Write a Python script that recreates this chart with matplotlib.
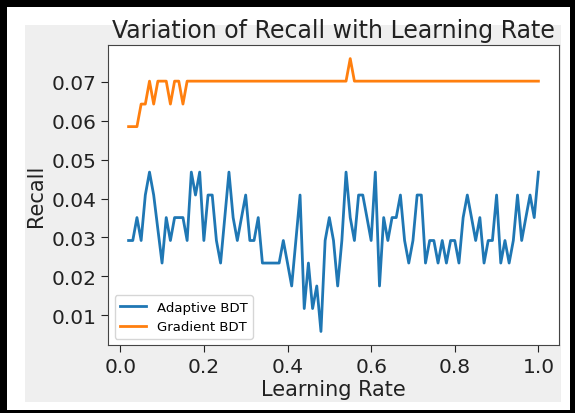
import numpy as np
import matplotlib
matplotlib.use('Agg')
import matplotlib.pyplot as plt
from matplotlib.patches import Rectangle

# learning rates 0.02 .. 1.00
learning_rates = [round(0.02 + 0.01 * i, 2) for i in range(99)]

adaptive_recall = [
    0.0292, 0.0292, 0.0351, 0.0292, 0.0409, 0.0468, 0.0409, 0.0321, 0.0234, 0.0351,
    0.0292, 0.0351, 0.0351, 0.0351, 0.0292, 0.0468, 0.0409, 0.0468, 0.0292, 0.0409,
    0.0409, 0.0292, 0.0234, 0.0351, 0.0468, 0.0351, 0.0292, 0.0351, 0.0409, 0.0292,
    0.0292, 0.0351, 0.0234, 0.0234, 0.0234, 0.0234, 0.0234, 0.0292, 0.0234, 0.0175,
    0.0292, 0.0409, 0.0117, 0.0234, 0.0117, 0.0175, 0.0058, 0.0292, 0.0351, 0.0292,
    0.0175, 0.0292, 0.0468, 0.0351, 0.0292, 0.0409, 0.0409, 0.0351, 0.0292, 0.0468,
    0.0175, 0.0351, 0.0292, 0.0351, 0.0351, 0.0409, 0.0292, 0.0234, 0.0292, 0.0409,
    0.0409, 0.0234, 0.0292, 0.0292, 0.0234, 0.0292, 0.0234, 0.0292, 0.0292, 0.0234,
    0.0351, 0.0409, 0.0351, 0.0292, 0.0351, 0.0234, 0.0292, 0.0292, 0.0409, 0.0234,
    0.0292, 0.0234, 0.0292, 0.0409, 0.0292, 0.0351, 0.0409, 0.0351, 0.0468,
]

gradient_recall = [
    0.0585, 0.0585, 0.0585, 0.0643, 0.0643, 0.0702, 0.0643, 0.0702, 0.0702, 0.0702,
    0.0643, 0.0702, 0.0702, 0.0643, 0.0702, 0.0702, 0.0702, 0.0702, 0.0702, 0.0702,
    0.0702, 0.0702, 0.0702, 0.0702, 0.0702, 0.0702, 0.0702, 0.0702, 0.0702, 0.0702,
    0.0702, 0.0702, 0.0702, 0.0702, 0.0702, 0.0702, 0.0702, 0.0702, 0.0702, 0.0702,
    0.0702, 0.0702, 0.0702, 0.0702, 0.0702, 0.0702, 0.0702, 0.0702, 0.0702, 0.0702,
    0.0702, 0.0702, 0.0702, 0.0760, 0.0702, 0.0702, 0.0702, 0.0702, 0.0702, 0.0702,
    0.0702, 0.0702, 0.0702, 0.0702, 0.0702, 0.0702, 0.0702, 0.0702, 0.0702, 0.0702,
    0.0702, 0.0702, 0.0702, 0.0702, 0.0702, 0.0702, 0.0702, 0.0702, 0.0702, 0.0702,
    0.0702, 0.0702, 0.0702, 0.0702, 0.0702, 0.0702, 0.0702, 0.0702, 0.0702, 0.0702,
    0.0702, 0.0702, 0.0702, 0.0702, 0.0702, 0.0702, 0.0702, 0.0702, 0.0702,
]

fig = plt.figure(figsize=(5.75, 4.14), dpi=100, facecolor='black')

# screenshot frame: white band then light grey figure area
fig.patches.append(Rectangle((0.0122, 0.0072), 0.979, 0.973, transform=fig.transFigure,
                             facecolor='white', edgecolor='none', zorder=-2))
fig.patches.append(Rectangle((0.0435, 0.0266), 0.932, 0.911, transform=fig.transFigure,
                             facecolor='#efefef', edgecolor='none', zorder=-1))

ax = fig.add_axes([0.188, 0.164, 0.784, 0.725])
ax.set_facecolor('white')

ax.plot(learning_rates, adaptive_recall, label='Adaptive BDT', color='#1f77b4', linewidth=2)
ax.plot(learning_rates, gradient_recall, label='Gradient BDT', color='#ff7f0e', linewidth=2)

ax.set_title('Variation of Recall with Learning Rate', fontsize=17, color='#222222')
ax.set_xlabel('Learning Rate', fontsize=15, color='#222222', labelpad=2)
ax.set_ylabel('Recall', fontsize=15, color='#222222')
ax.tick_params(labelsize=14.5, length=5, colors='#222222')
ax.set_xticks([0.0, 0.2, 0.4, 0.6, 0.8, 1.0])
ax.set_yticks([0.01, 0.02, 0.03, 0.04, 0.05, 0.06, 0.07])
for s in ax.spines.values():
    s.set_color('#444444')

ax.legend(loc='lower left', fontsize=9.5)

plt.savefig('out.png', dpi=100, facecolor=fig.get_facecolor())
